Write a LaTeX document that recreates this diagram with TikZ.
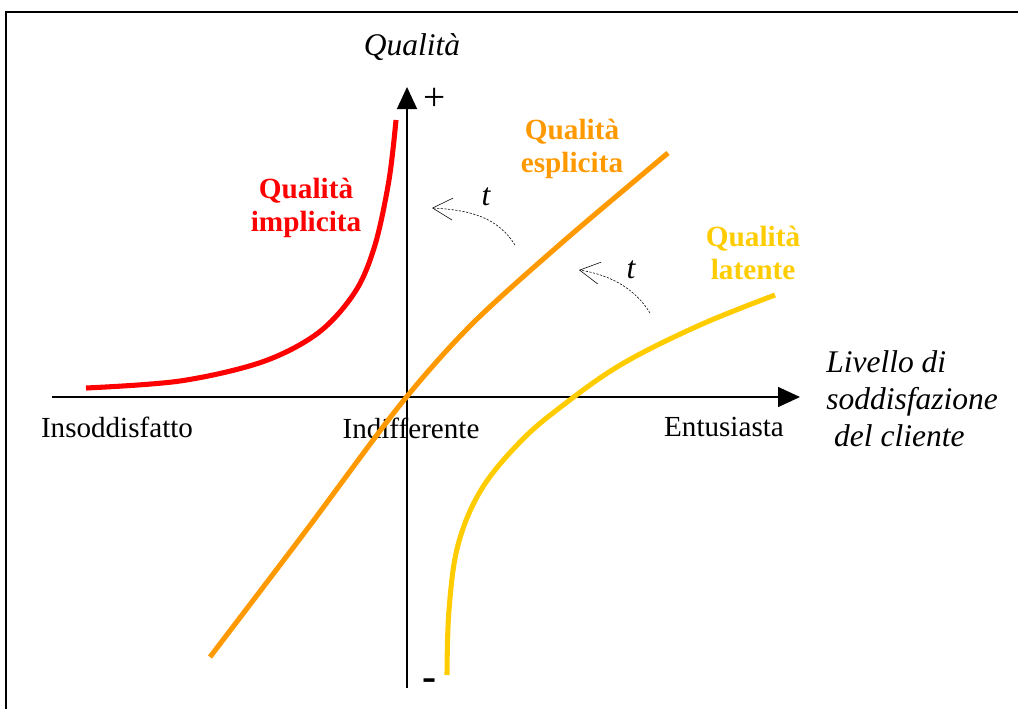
\documentclass[tikz,border=0pt]{standalone}
\usepackage{fontspec}
\setmainfont{Liberation Serif}
\usetikzlibrary{arrows.meta, positioning}
\definecolor{qred}{RGB}{255,0,0}
\definecolor{qorange}{RGB}{255,153,0}
\definecolor{qyellow}{RGB}{255,204,0}

\begin{document}
\begin{tikzpicture}[
    x=0.025cm, y=-0.025cm,
    axis/.style={-{Triangle[length=0.55cm, width=0.5cm]}, line width=1.1pt},
    curve/.style={line width=3.6pt, line cap=butt},
    tarrow/.style={-{Straight Barb[length=0.5cm, width=0.55cm]}, dashed, line width=0.4pt, dash pattern=on 1.6pt off 1pt},
    txt/.style={font=\fontsize{20.7}{24}\selectfont, inner sep=0pt},
    itxt/.style={font=\fontsize{22.4}{26.2}\selectfont\itshape, inner sep=0pt},
    qlabel/.style={font=\fontsize{20.8}{23.5}\selectfont\bfseries, align=center, inner sep=0pt},
]
\useasboundingbox (0,0) rectangle (1018,709);

% frame
\draw[line width=1.4pt] (6,709) -- (6,12) -- (1018,12);

% axes
\coordinate (xstart) at (52,397);
\coordinate (xend) at (800,397);
\coordinate (ystart) at (407,688);
\coordinate (yend) at (407,87);
\draw[axis] (xstart) -- (xend);
\draw[axis] (ystart) -- (yend);

\node[itxt] (ylab) at (412,47) {Qualità};
\node[txt, font=\fontsize{28}{30}\selectfont] (plus) at (435,99) {+};
\node[txt, font=\fontsize{30}{30}\selectfont\bfseries] (minus) at (430,685) {-};

\node[itxt, align=left, anchor=west] (xlab) at (826,399)
    {Livello di\\soddisfazione\\\hspace{0.25em}del cliente};

\node[txt] (insod) at (117,427) {Insoddisfatto};
\node[txt] (indif) at (411,428) {Indifferente};
\node[txt] (entus) at (724,427) {Entusiasta};

% curves
\draw[curve, qred] plot[smooth, tension=0.55] coordinates {(86,388) (180,381) (262,362) (318,333) (355,292) (375,245) (389,180) (396,120)};
\draw[curve, qorange] plot[smooth, tension=0.5] coordinates {(210,657) (305,532) (400,405) (472,324) (565,240) (668,153)};
\draw[curve, qyellow] plot[smooth, tension=0.6] coordinates {(447,675) (449,610) (458,545) (481,490) (520,442) (562,406) (622,364) (700,325) (775,295)};

\node[qlabel, text=qred] (implicita) at (306,208) {Qualità\\implicita};
\node[qlabel, text=qorange] (esplicita) at (572,149) {Qualità\\esplicita};
\node[qlabel, text=qyellow] (latente) at (753,253) {Qualità\\latente};

% time shifts
\coordinate (t1s) at (515,245);
\coordinate (t1e) at (432,208);
\coordinate (t2s) at (650,313);
\coordinate (t2e) at (579,270);
\draw[tarrow] (t1s) .. controls (498,218) and (472,210) .. (t1e);
\draw[tarrow] (t2s) .. controls (636,290) and (612,275) .. (t2e);
\node[itxt] (t1) at (486,197) {t};
\node[itxt] (t2) at (631,270) {t};

\end{tikzpicture}
\end{document}
